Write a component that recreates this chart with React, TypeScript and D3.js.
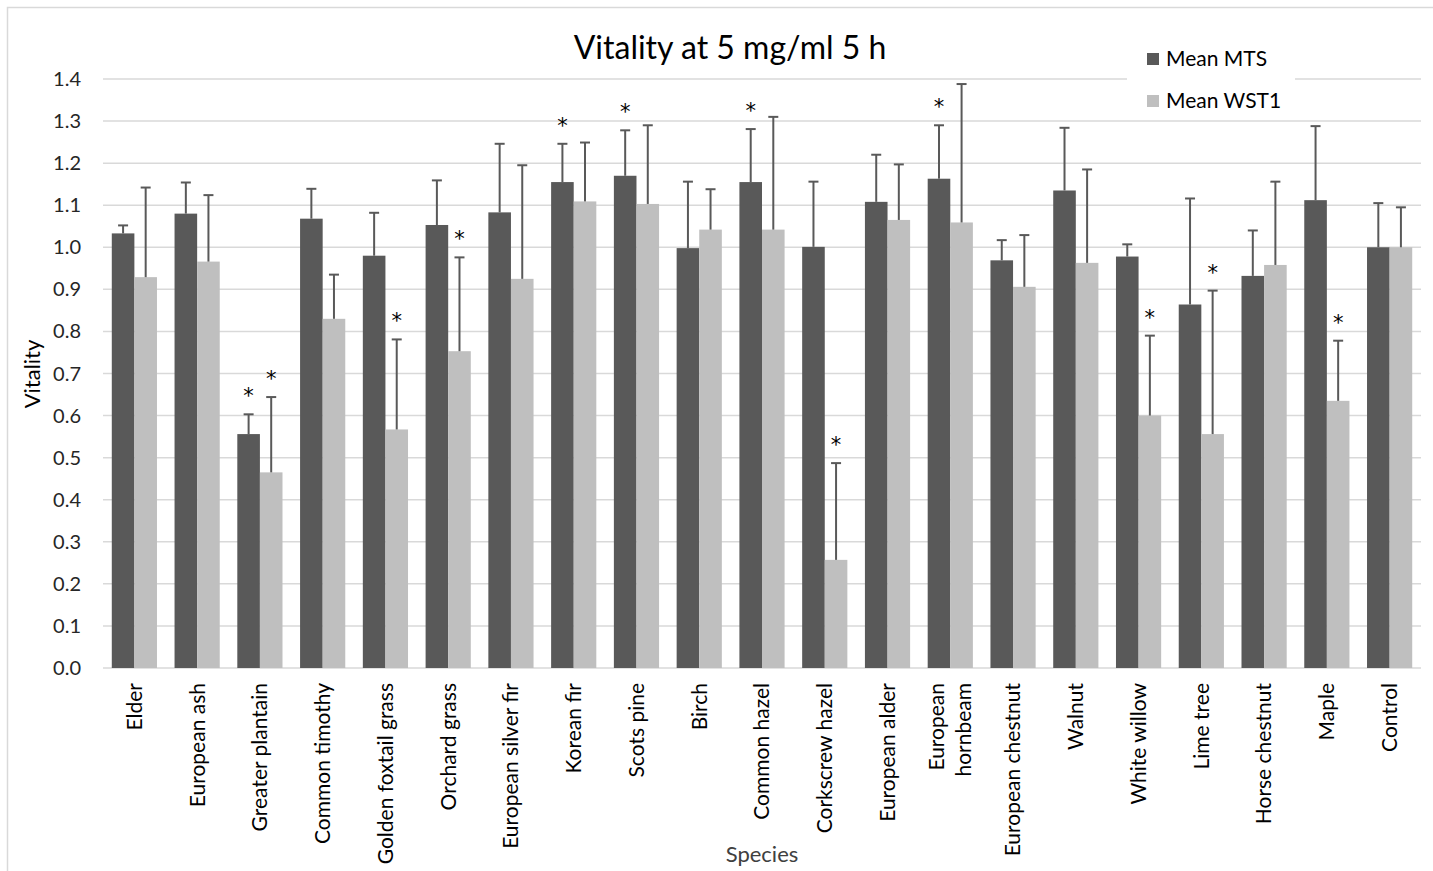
import React, { useEffect, useRef } from "react";
import * as d3 from "d3";

// species along the x axis
const species = [
  "Elder", "European ash", "Greater plantain", "Common timothy", "Golden foxtail grass",
  "Orchard grass", "European silver fir", "Korean fir", "Scots pine", "Birch",
  "Common hazel", "Corkscrew hazel", "European alder", "European hornbeam",
  "European chestnut", "Walnut", "White willow", "Lime tree", "Horse chestnut",
  "Maple", "Control",
];

// Mean MTS and its (upper) error
const mtsMean = [1.033, 1.080, 0.556, 1.068, 0.980, 1.053, 1.083, 1.155, 1.170, 0.998, 1.155,
  1.001, 1.108, 1.163, 0.969, 1.135, 0.978, 0.864, 0.932, 1.112, 1.000];
const mtsErr = [0.019, 0.074, 0.047, 0.071, 0.102, 0.106, 0.163, 0.091, 0.108, 0.158, 0.126,
  0.155, 0.112, 0.127, 0.048, 0.149, 0.029, 0.252, 0.108, 0.176, 0.105];

// Mean WST1 and its (upper) error
const wstMean = [0.929, 0.966, 0.465, 0.830, 0.567, 0.753, 0.925, 1.109, 1.103, 1.042, 1.042,
  0.257, 1.065, 1.059, 0.906, 0.963, 0.600, 0.556, 0.958, 0.635, 1.000];
const wstErr = [0.213, 0.158, 0.179, 0.105, 0.214, 0.223, 0.270, 0.140, 0.187, 0.096, 0.268,
  0.230, 0.132, 0.329, 0.123, 0.222, 0.190, 0.341, 0.198, 0.143, 0.095];

// significance marks (*)
const mtsSig = ["Greater plantain", "Korean fir", "Scots pine", "Common hazel", "European hornbeam"];
const wstSig = ["Greater plantain", "Golden foxtail grass", "Orchard grass", "Corkscrew hazel",
  "White willow", "Lime tree", "Maple"];

const yTicks = [0, 0.1, 0.2, 0.3, 0.4, 0.5, 0.6, 0.7, 0.8, 0.9, 1.0, 1.1, 1.2, 1.3, 1.4];

const series = [
  { key: "mts", name: "Mean MTS", mean: mtsMean, err: mtsErr, sig: mtsSig, color: "#595959" },
  { key: "wst", name: "Mean WST1", mean: wstMean, err: wstErr, sig: wstSig, color: "#bfbfbf" },
];

const W = 1433;
const H = 871;
const FONT = "Lato, 'Open Sans', sans-serif";

function VitalityChart() {
  const ref = useRef<SVGSVGElement>(null);

  useEffect(() => {
    const svg = d3.select(ref.current);
    svg.selectAll("*").remove();

    const left = 103, right = 1421, top = 79, bottom = 668;

    // chart frame
    svg.append("rect")
      .attr("x", 7.5).attr("y", 7.5)
      .attr("width", W + 20).attr("height", H + 20)
      .attr("fill", "#fff").attr("stroke", "#d9d9d9").attr("stroke-width", 1.5);

    const x0 = d3.scaleBand().domain(species).range([left, right])
      .paddingInner(0.28).paddingOuter(0.14);
    const x1 = d3.scaleBand().domain(series.map(s => s.key)).range([0, x0.bandwidth()]);
    const y = d3.scaleLinear().domain([0, 1.4]).range([bottom, top]);

    // gridlines
    svg.append("g").selectAll("line").data(yTicks).enter().append("line")
      .attr("x1", left).attr("x2", right)
      .attr("y1", d => y(d)).attr("y2", d => y(d))
      .attr("stroke", "#d9d9d9").attr("stroke-width", 1.5);

    // y tick labels
    svg.append("g").selectAll("text").data(yTicks).enter().append("text")
      .attr("x", 81).attr("y", d => y(d)).attr("dy", "0.35em")
      .attr("text-anchor", "end")
      .style("font-family", FONT).style("font-size", "20px").style("fill", "#262626")
      .text(d => d.toFixed(1));

    // bars
    series.forEach(s => {
      const g = svg.append("g");
      g.selectAll("rect").data(species).enter().append("rect")
        .attr("x", d => x0(d)! + x1(s.key)!)
        .attr("width", x1.bandwidth())
        .attr("y", (d, i) => y(s.mean[i]))
        .attr("height", (d, i) => bottom - y(s.mean[i]))
        .attr("fill", s.color);
    });

    // error bars and stars
    series.forEach(s => {
      const g = svg.append("g").attr("stroke", "#595959").attr("stroke-width", 2);
      species.forEach((d, i) => {
        const cx = x0(d)! + x1(s.key)! + x1.bandwidth() / 2;
        const yt = y(s.mean[i] + s.err[i]);
        g.append("line").attr("x1", cx).attr("x2", cx).attr("y1", y(s.mean[i])).attr("y2", yt);
        g.append("line").attr("x1", cx - 5).attr("x2", cx + 5).attr("y1", yt).attr("y2", yt);
        if (s.sig.includes(d)) {
          svg.append("text")
            .attr("x", cx).attr("y", yt - 23 + 12)
            .attr("text-anchor", "middle")
            .style("font-family", "'DejaVu Sans', sans-serif").style("font-size", "21px").style("fill", "#000")
            .text("*");
        }
      });
    });

    // x labels, rotated
    const xl = svg.append("g")
      .style("font-family", FONT).style("font-size", "21px").style("fill", "#000");
    species.forEach(d => {
      const cx = x0(d)! + x0.bandwidth() / 2;
      const t = xl.append("text")
        .attr("transform", `translate(${cx},683) rotate(-90)`)
        .attr("text-anchor", "end");
      if (d === "European hornbeam") {
        t.append("tspan").attr("x", 0).attr("dy", "-0.3em").text("European");
        t.append("tspan").attr("x", 0).attr("dy", "1.3em").text("hornbeam");
      } else {
        t.attr("dy", "0.35em").text(d);
      }
    });

    // axis titles
    svg.append("text")
      .attr("x", (left + right) / 2).attr("y", 862)
      .attr("text-anchor", "middle")
      .style("font-family", FONT).style("font-size", "22px").style("fill", "#404040")
      .text("Species");
    svg.append("text")
      .attr("transform", "translate(32,374) rotate(-90)")
      .attr("dy", "0.35em").attr("text-anchor", "middle")
      .style("font-family", FONT).style("font-size", "22px").style("fill", "#000")
      .text("Vitality");

    // title
    svg.append("text")
      .attr("x", 730).attr("y", 59)
      .attr("text-anchor", "middle")
      .style("font-family", FONT).style("font-size", "32px").style("fill", "#000")
      .text("Vitality at 5 mg/ml 5 h");

    // legend
    const lg = svg.append("g");
    lg.append("rect").attr("x", 1127).attr("y", 38).attr("width", 168).attr("height", 82).attr("fill", "#fff");
    series.forEach((s, i) => {
      lg.append("rect").attr("x", 1147).attr("y", 53 + i * 42).attr("width", 12).attr("height", 12)
        .attr("fill", s.color);
      lg.append("text").attr("x", 1166).attr("y", 59 + i * 42).attr("dy", "0.35em")
        .style("font-family", FONT).style("font-size", "21px").style("fill", "#000")
        .text(s.name);
    });
  }, []);

  return (
    <svg ref={ref} width={W} height={H}
      style={{ position: "absolute", left: 0, top: 0, display: "block" }} />
  );
}

export default function App() {
  return <VitalityChart />;
}
